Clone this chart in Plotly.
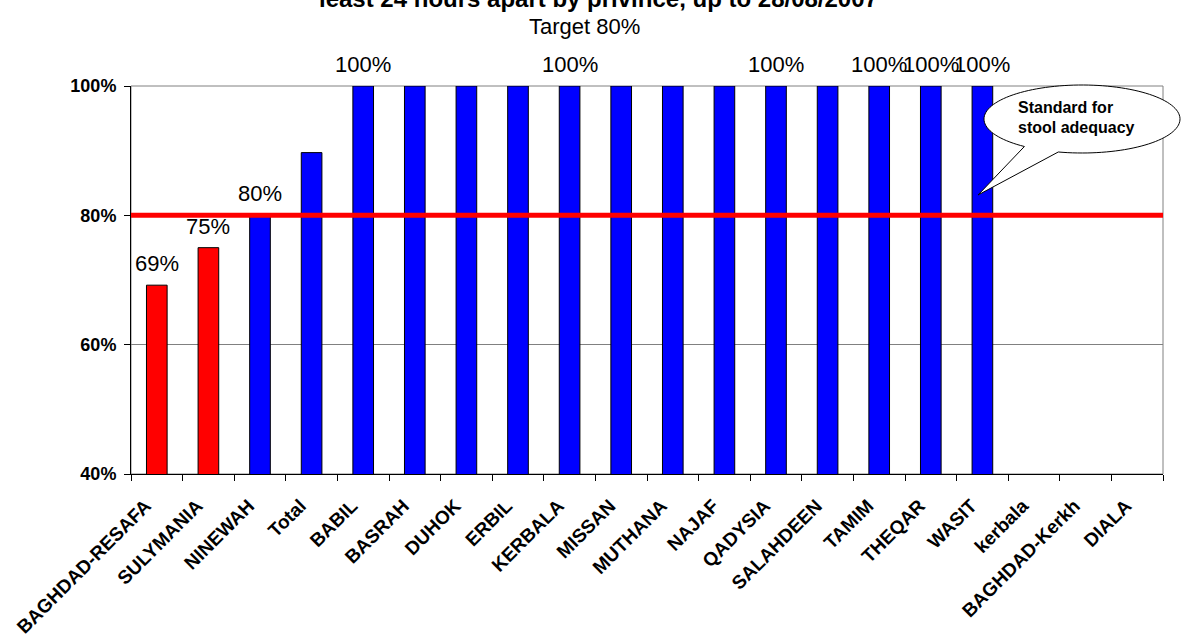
import numpy as np
import plotly.graph_objects as go

categories = ["BAGHDAD-RESAFA", "SULYMANIA", "NINEWAH", "Total", "BABIL", "BASRAH",
              "DUHOK", "ERBIL", "KERBALA", "MISSAN", "MUTHANA", "NAJAF", "QADYSIA",
              "SALAHDEEN", "TAMIM", "THEQAR", "WASIT", "kerbala", "BAGHDAD-Kerkh", "DIALA"]
values = [69.2, 75.0, 80.0, 89.7, 100, 100, 100, 100, 100, 100, 100, 100, 100,
          100, 100, 100, 100, None, None, None]
label_text = ["69%", "75%", "80%", "", "100%", "", "", "", "100%", "", "", "", "100%",
              "", "100%", "100%", "100%", "", "", ""]
target = 80
y_ticks = [40, 60, 80, 100]
y_tick_labels = ["40%", "60%", "80%", "100%"]

FONT = "Arial, Liberation Sans, sans-serif"
W, H = 1181, 635
L, R, T, B = 131, 18, 86, 161
PW, PH = W - L - R, H - T - B


def px(x, y):
    return (x - L) / PW, (H - B - y) / PH


colors = ["#FF0000" if (v is not None and v < target) else "#0000FF" for v in values]

fig = go.Figure()
fig.add_trace(go.Bar(
    x=categories, y=values, width=0.4,
    marker=dict(color=colors, line=dict(color="black", width=1)),
    hoverinfo="x+y", showlegend=False,
))

annotations = []
for c, v, t in zip(categories, values, label_text):
    if t and v is not None:
        annotations.append(dict(x=c, y=v, xref="x", yref="y", text=t, showarrow=False,
                                yanchor="bottom", yshift=7,
                                font=dict(family=FONT, size=22, color="black")))

# titles
tx, ty = px(598, -1)
annotations.append(dict(x=tx, y=ty, xref="paper", yref="paper",
                        text="<b>least 24 hours apart by privince, up to 28/08/2007</b>",
                        showarrow=False, xanchor="center", yanchor="middle",
                        font=dict(family=FONT, size=24, color="black")))
tx, ty = px(584, 26)
annotations.append(dict(x=tx, y=ty, xref="paper", yref="paper", text="Target 80%",
                        showarrow=False, xanchor="center", yanchor="middle",
                        font=dict(family=FONT, size=22, color="black")))

# callout
cx, cy, rx, ry = 1082, 119, 98, 34
t0, t1 = np.deg2rad(126), np.deg2rad(104 + 360)
ts = np.linspace(t0, t1, 120)
pts = [px(cx + rx * np.cos(t), cy + ry * np.sin(t)) for t in ts]
pts.append(px(978, 195))
path = "M " + " L ".join(f"{a:.5f},{b:.5f}" for a, b in pts) + " Z"

shapes = [
    dict(type="rect", xref="paper", yref="paper", x0=0, x1=1, y0=0, y1=1,
         line=dict(color="#808080", width=1), layer="below"),
    dict(type="line", xref="paper", yref="y", x0=0, x1=1, y0=target, y1=target,
         line=dict(color="#FF0000", width=5), layer="above"),
    dict(type="path", xref="paper", yref="paper", path=path,
         fillcolor="white", line=dict(color="black", width=1), layer="above"),
]
for txt, yy in [("Standard for", 107), ("stool adequacy", 128)]:
    ax, ay = px(1016, yy)
    annotations.append(dict(x=ax, y=ay, xref="paper", yref="paper", text=f"<b>{txt}</b>",
                            showarrow=False, xanchor="left", yanchor="middle",
                            font=dict(family=FONT, size=16, color="black")))

fig.update_layout(
    width=W, height=H,
    margin=dict(l=L, r=R, t=T, b=B, autoexpand=False),
    paper_bgcolor="white", plot_bgcolor="white",
    font=dict(family=FONT, color="black"),
    bargap=0.6,
    annotations=annotations, shapes=shapes,
    xaxis=dict(type="category", showline=True, linecolor="black", linewidth=1,
               ticks="outside", ticklen=6, tickcolor="black", tickson="boundaries",
               tickangle=-45, showgrid=False, automargin=False, ticklabelstandoff=1,
               tickfont=dict(family=FONT, size=19, color="black"),
               tickprefix="<b>", ticksuffix="\u00a0\u00a0\u00a0</b>"),
    yaxis=dict(range=[40, 100], tickvals=y_ticks, ticktext=[f"<b>{s}</b>" for s in y_tick_labels],
               showline=True, linecolor="black", linewidth=1, ticks="outside", ticklen=6,
               tickcolor="black", showgrid=True, gridcolor="#808080", gridwidth=1,
               zeroline=False, automargin=False, ticklabelstandoff=4,
               tickfont=dict(family=FONT, size=18, color="black")),
)
fig.update_traces(cliponaxis=False)

fig.write_html("out.html", config={"displayModeBar": False},
               post_script="document.body.style.margin='0';document.body.style.padding='0';")
